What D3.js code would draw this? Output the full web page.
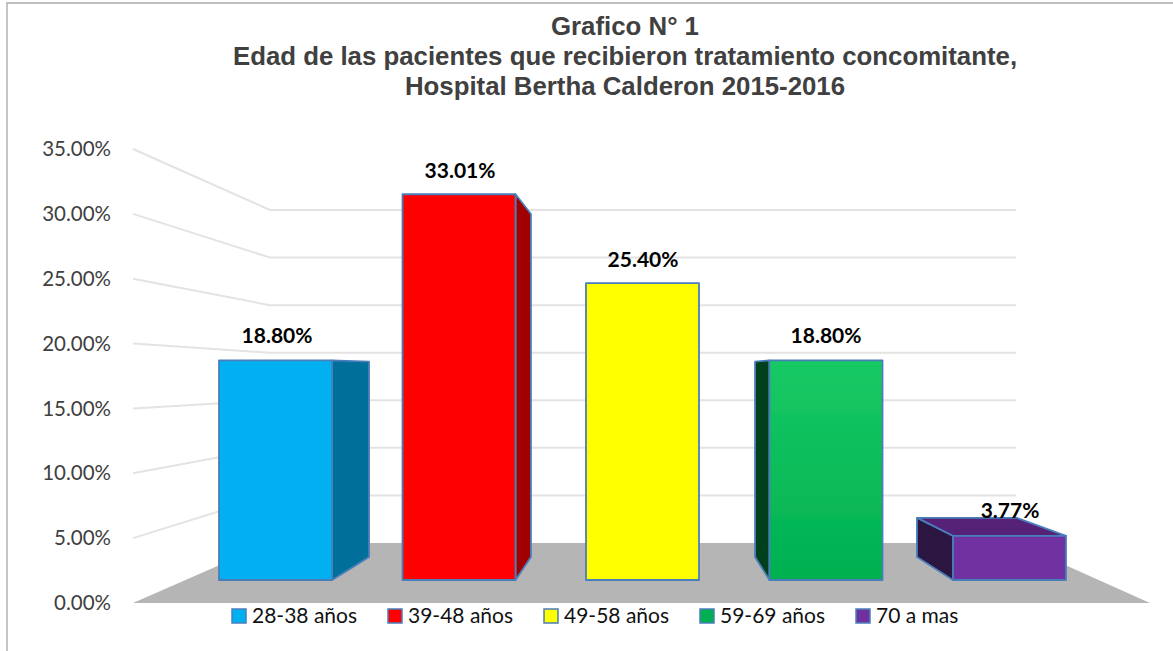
<!DOCTYPE html>
<html><head><meta charset="utf-8">
<script src="https://cdn.jsdelivr.net/npm/d3@7"></script>
<style>html,body{margin:0;padding:0;background:#fff}svg{display:block}</style></head>
<body><script>
const titleLines = ["Grafico N° 1","Edad de las pacientes que recibieron tratamiento concomitante,","Hospital Bertha Calderon 2015-2016"];
const categories = ["28-38 años","39-48 años","49-58 años","59-69 años","70 a mas"];
const values = [18.80,33.01,25.40,18.80,3.77];
const valueLabels = ["18.80%","33.01%","25.40%","18.80%","3.77%"];
const ticks = [0,5,10,15,20,25,30,35];
const frontColors = ["#00b0f0","#ff0000","#ffff00","#00b050","#7030a0"];
const sideColors = ["#006f9a","#a00000","#a6a600","#00401f","#2c1440"];
const topColors = ["#0089bb","#c00000","#d0d000","#008a40","#542377"];
const labelCenters = [277,460,643,826,1010];
const labelOffsets = [25,24,24,25,25];

const W=1173,H=651;
const svg=d3.select("body").append("svg").attr("width",W).attr("height",H);
const defs=svg.append("defs");
defs.append("filter").attr("id","soft").append("feGaussianBlur").attr("stdDeviation",0.5);
const g=defs.append("linearGradient").attr("id","greenGrad").attr("x1",0).attr("x2",0).attr("y1",0).attr("y2",1);
g.append("stop").attr("offset","0%").attr("stop-color","#17c964");
g.append("stop").attr("offset","100%").attr("stop-color","#00b050");

// frame
svg.append("path").attr("d","M7 651V3H1173").attr("fill","none").attr("stroke","#bfbfbf").attr("stroke-width",1.8);

// scales
const xFront=d3.scaleBand().domain(categories).range([219,1066]).paddingInner(0.384);
const xBack=d3.scaleLinear().domain([332,953]).range([369,917]);
const yFront=d3.scaleLinear().domain([0,35]).range([580,171]);
const yBack=d3.scaleLinear().domain([0,35]).range([557,193.3]);
const yAxisFront=d3.scaleLinear().domain([0,35]).range([603,149]);
const yWall=d3.scaleLinear().domain([0,35]).range([543,210]);
const wallL=270,wallR=1016,axisX=133,floorR=1150;

const plot=svg.append("g").attr("filter","url(#soft)");
// floor
const line=d3.line();
plot.append("path").attr("fill","#b5b5b5")
 .attr("d",line([[axisX,yAxisFront(0)],[floorR,yAxisFront(0)],[wallR,yWall(0)],[wallL,yWall(0)]])+"Z");
// gridlines
plot.selectAll(".grid").data(ticks.filter(t=>t>0)).join("path").attr("class","grid")
 .attr("fill","none").attr("stroke","#e3e3e3").attr("stroke-width",2)
 .attr("d",t=>line([[axisX,yAxisFront(t)],[wallL,yWall(t)],[wallR,yWall(t)]]));

// bars
const outline="#4a7ebb";
categories.forEach((c,i)=>{
  const v=values[i], x0=xFront(c), x1=x0+xFront.bandwidth();
  const yt=yFront(v), yb=yFront(0), ybt=yBack(v), ybb=yBack(0);
  const bar=plot.append("g").attr("stroke",outline).attr("stroke-width",1.8).attr("stroke-linejoin","round");
  if(yt>ybt){ // top face visible
    bar.append("path").attr("fill",topColors[i])
     .attr("d",line([[x0,yt],[x1,yt],[xBack(x1),ybt],[xBack(x0),ybt]])+"Z");
  }
  const sx = i<2 ? x1 : (i>2 ? x0 : null);
  if(sx!==null){
    bar.append("path").attr("fill",sideColors[i])
     .attr("d",line([[sx,yt],[xBack(sx),ybt],[xBack(sx),ybb],[sx,yb]])+"Z");
  }
  bar.append("rect").attr("x",x0).attr("y",yt).attr("width",x1-x0).attr("height",yb-yt)
     .attr("fill",i===3?"url(#greenGrad)":frontColors[i]);
});

// axis labels
svg.selectAll(".tick").data(ticks).join("text").attr("class","tick")
 .attr("x",111).attr("y",t=>yAxisFront(t)).attr("dy","0.35em").attr("text-anchor","end")
 .attr("font-family","Lato").attr("font-size",20.5).attr("fill","#404040")
 .text(t=>t.toFixed(2)+"%");

// data labels
svg.selectAll(".val").data(values).join("text").attr("class","val")
 .attr("x",(d,i)=>labelCenters[i])
 .attr("y",(d,i)=>yFront(d)-labelOffsets[i]).attr("dy","0.35em").attr("text-anchor","middle")
 .attr("font-family","Lato").attr("font-weight",700).attr("font-size",21).attr("fill","#000")
 .text((d,i)=>valueLabels[i]);

// legend
const legendX=[232,388,544,700,856];
const lg=svg.selectAll(".leg").data(categories).join("g").attr("class","leg")
 .attr("transform",(d,i)=>`translate(${legendX[i]},616)`);
lg.append("rect").attr("x",0).attr("y",-7).attr("width",14).attr("height",14)
 .attr("fill",(d,i)=>frontColors[i]).attr("stroke",outline).attr("stroke-width",1.5);
lg.append("text").attr("x",20).attr("dy","0.35em").attr("font-family","Lato").attr("font-size",21).attr("fill","#111")
 .text(d=>d);

// title
svg.append("text").attr("text-anchor","middle").attr("font-family","Liberation Sans").attr("font-weight",700)
 .attr("font-size",25.8).attr("fill","#404040")
 .selectAll("tspan").data(titleLines).join("tspan").attr("x",625).attr("y",(d,i)=>35+i*30).text(d=>d);
</script></body></html>
